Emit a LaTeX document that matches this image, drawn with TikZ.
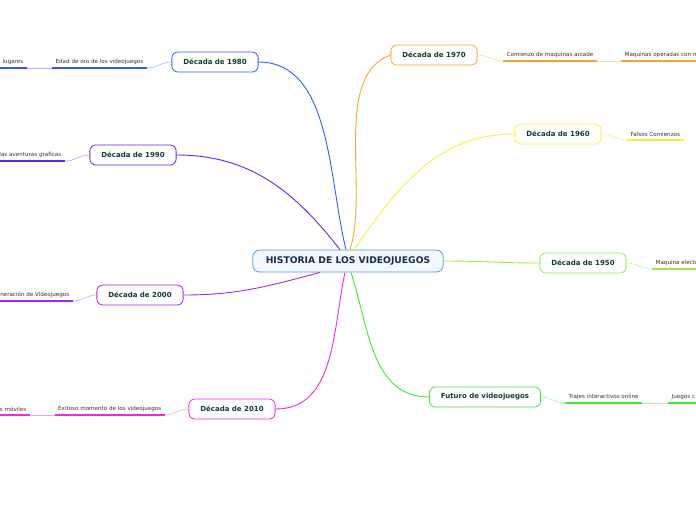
\documentclass[tikz,border=0pt]{standalone}
\usepackage{fontspec}
\setmainfont{DejaVu Sans}
\definecolor{histborde}{HTML}{4A9BDB}
\definecolor{histfondo}{HTML}{F2F8FD}
\definecolor{histtexto}{HTML}{1A2A4A}
\definecolor{nodotexto}{HTML}{0F3D2E}
\definecolor{temtexto}{HTML}{333333}
\definecolor{c1980}{HTML}{2F5BFF}
\definecolor{c1990}{HTML}{5A28F0}
\definecolor{c2000}{HTML}{A428E8}
\definecolor{c2010}{HTML}{F028E0}
\definecolor{c1970}{HTML}{F5A630}
\definecolor{c1960}{HTML}{F2F23A}
\definecolor{c1950}{HTML}{9AE84A}
\definecolor{cfuturo}{HTML}{3CE83C}
\begin{document}
\begin{tikzpicture}
[x=1pt, y=-1pt, font=\fontsize{5.6}{6.5}\selectfont]

\tikzstyle{decada}=[draw, rounded corners=6pt, fill=white, line width=0.8pt, minimum height=20pt, inner xsep=11.5pt, text=nodotexto, font=\fontsize{7}{8}\selectfont\bfseries]
\tikzstyle{tema}=[inner xsep=3.5pt, inner ysep=3.5pt, text=temtexto]
\tikzstyle{rama}=[line width=0.9pt]
\tikzstyle{enlace}=[line width=0.6pt]
\tikzstyle{raya}=[line width=1.2pt]

\useasboundingbox (0,0) rectangle (696,520);

\node[draw=histborde, fill=histfondo, rounded corners=7pt, line width=0.8pt, minimum height=22pt, inner xsep=13pt, text=histtexto, font=\fontsize{9.2}{10}\selectfont\bfseries] (hist) at (348,261) {HISTORIA DE LOS VIDEOJUEGOS};

\node[decada, draw=c1980]	(d1980)	at (215,62)	{Década de 1980};
\node[decada, draw=c1990]	(d1990)	at (133,155)	{Década de 1990};
\node[decada, draw=c2000]	(d2000)	at (140,295)	{Década de 2000};
\node[decada, draw=c2010]	(d2010)	at (232,409)	{Década de 2010};
\node[decada, draw=c1970]	(d1970)	at (434,55)	{Década de 1970};
\node[decada, draw=c1960]	(d1960)	at (558,134)	{Década de 1960};
\node[decada, draw=c1950]	(d1950)	at (583,263)	{Década de 1950};
\node[decada, draw=cfuturo]	(futuro)	at (485,397)	{Futuro de videojuegos};

\node[tema, anchor=south east]	(oro)		at (147,68)	{Edad de oro de los videojuegos};
\node[tema, anchor=south east]	(lugares)	at (27,68)	{lugares};
\node[tema, anchor=south east]	(aventuras)	at (65,161)	{las aventuras graficas};
\node[tema, anchor=south east]	(generacion)	at (73,301)	{neración de Videojuegos};
\node[tema, anchor=south east]	(exitoso)	at (165,415)	{Exitoso momento de los videojuegos};
\node[tema, anchor=south east]	(moviles)	at (30,415)	{s móviles};
\node[tema, anchor=south west]	(arcade)	at (503,61)	{Comienzo de maquinas arcade};
\node[tema, anchor=south west]	(operadas)	at (621,61)	{Maquinas operadas con m};
\node[tema, anchor=south west]	(falsos)	at (627,140)	{Falsos Comienzos};
\node[tema, anchor=south west]	(electr)	at (652,269)	{Maquina electr};
\node[tema, anchor=south west]	(trajes)	at (565,403)	{Trajes interactivos online};
\node[tema, anchor=south west]	(juegos)	at (668,403)	{Juegos c};

% underlines
\draw[raya, c1980] (oro.south west)--(oro.south east);
\draw[raya, c1980] (lugares.south west)--(lugares.south east);
\draw[raya, c1990] (aventuras.south west)--(aventuras.south east);
\draw[raya, c2000] (generacion.south west)--(generacion.south east);
\draw[raya, c2010] (exitoso.south west)--(exitoso.south east);
\draw[raya, c2010] (moviles.south west)--(moviles.south east);
\draw[raya, c1970] (arcade.south west)--(arcade.south east);
\draw[raya, c1970] (operadas.south west)--(operadas.south east);
\draw[raya, c1960] (falsos.south west)--(falsos.south east);
\draw[raya, c1950] (electr.south west)--(electr.south east);
\draw[raya, cfuturo] (trajes.south west)--(trajes.south east);
\draw[raya, cfuturo] (juegos.south west)--(juegos.south east);

% branches from the centre
\draw[rama, c1980] ([xshift=-2pt]hist.north) to[out=104, in=0, looseness=0.9] (d1980.east);
\draw[rama, c1990] ([xshift=-8pt]hist.north) to[out=128, in=0] (d1990.east);
\draw[rama, c2000] ([xshift=-28pt]hist.south) to[out=195, in=0] (d2000.east);
\draw[rama, c2010] ([xshift=-3pt]hist.south) to[out=-102, in=0] (d2010.east);
\draw[rama, c1970] ([xshift=2pt]hist.north) to[out=72, in=200, looseness=0.8] (d1970.west);
\draw[rama, c1960] ([xshift=6pt]hist.north) to[out=55, in=180] (d1960.west);
\draw[rama, c1950] (hist.east) to[out=0, in=180] (d1950.west);
\draw[rama, cfuturo] ([xshift=3pt]hist.south) to[out=-72, in=180] (futuro.west);

% links to the topics
\draw[enlace, c1980!45!white] (d1980.west) to[out=180, in=0] (oro.south east);
\draw[enlace, c1980!45!white] (lugares.south east)--(oro.south west);
\draw[enlace, c1990!45!white] (d1990.west) to[out=180, in=0] (aventuras.south east);
\draw[enlace, c2000!45!white] (d2000.west) to[out=180, in=0] (generacion.south east);
\draw[enlace, c2010!45!white] (d2010.west) to[out=180, in=0] (exitoso.south east);
\draw[enlace, c2010!45!white] (moviles.south east)--(exitoso.south west);
\draw[enlace, c1970!45!white] (d1970.east) to[out=0, in=180] (arcade.south west);
\draw[enlace, c1970!45!white] (arcade.south east)--(operadas.south west);
\draw[enlace, c1960!60!white] (d1960.east) to[out=0, in=180] (falsos.south west);
\draw[enlace, c1950!55!white] (d1950.east) to[out=0, in=180] (electr.south west);
\draw[enlace, cfuturo!45!white] (futuro.east) to[out=0, in=180] (trajes.south west);
\draw[enlace, cfuturo!45!white] (trajes.south east)--(juegos.south west);
\end{tikzpicture}
\end{document}
